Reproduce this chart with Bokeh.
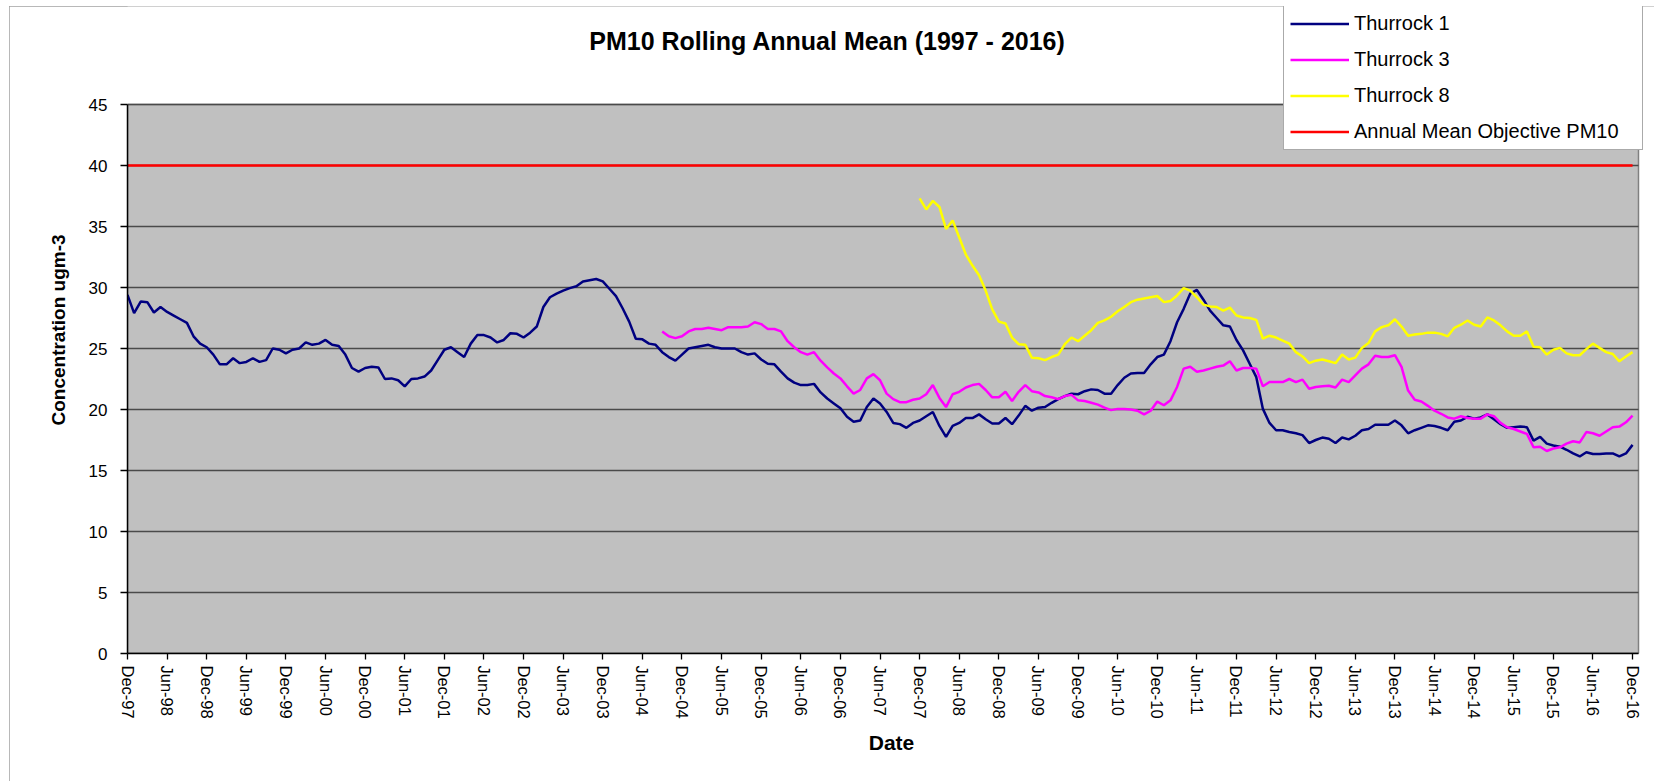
import numpy as np
import pandas as pd
from bokeh.plotting import figure
from bokeh.models import Range1d, FixedTicker, Legend, LegendItem, Label
from bokeh.embed import file_html
from bokeh.resources import INLINE

# ---------------- data ----------------
FIRST_MONTH = "1997-12"
LAST_MONTH = "2016-12"
T3_START = "2004-09"
T8_START = "2007-12"
OBJECTIVE = 40

TITLE = "PM10 Rolling Annual Mean (1997 - 2016)"
X_TITLE = "Date"
Y_TITLE = "Concentration ugm-3"
SERIES_NAMES = ["Thurrock 1", "Thurrock 3", "Thurrock 8", "Annual Mean Objective PM10"]

tick_labels = ["Dec-97", "Jun-98", "Dec-98", "Jun-99", "Dec-99", "Jun-00", "Dec-00",
               "Jun-01", "Dec-01", "Jun-02", "Dec-02", "Jun-03", "Dec-03", "Jun-04",
               "Dec-04", "Jun-05", "Dec-05", "Jun-06", "Dec-06", "Jun-07", "Dec-07",
               "Jun-08", "Dec-08", "Jun-09", "Dec-09", "Jun-10", "Dec-10", "Jun-11",
               "Dec-11", "Jun-12", "Dec-12", "Jun-13", "Dec-13", "Jun-14", "Dec-14",
               "Jun-15", "Dec-15", "Jun-16", "Dec-16"]
y_ticks = [0, 5, 10, 15, 20, 25, 30, 35, 40, 45]
Y_MAX = 45

thurrock1 = [
    29.4, 27.9, 28.85, 28.8, 27.95, 28.4, 28.0, 27.7, 27.4, 27.1, 26.0, 25.4,
    25.1, 24.5, 23.7, 23.7, 24.2, 23.8, 23.9, 24.2, 23.9, 24.05, 25.0, 24.9,
    24.6, 24.9, 25.0, 25.5, 25.3, 25.4, 25.7, 25.3, 25.2, 24.5, 23.4, 23.1,
    23.4, 23.5, 23.45, 22.5, 22.55, 22.4, 21.9, 22.5, 22.55, 22.7, 23.2, 24.05,
    24.9, 25.1, 24.7, 24.3, 25.4, 26.1, 26.1, 25.9, 25.5, 25.7, 26.25, 26.2,
    25.9, 26.3, 26.8, 28.4, 29.2, 29.5, 29.75, 29.95, 30.1, 30.5, 30.6, 30.7,
    30.5, 29.9, 29.3, 28.3, 27.2, 25.8, 25.75, 25.4, 25.3, 24.7, 24.3, 24.0,
    24.5, 25.0, 25.1, 25.2, 25.3, 25.1, 25.0, 25.0, 25.0, 24.7, 24.5, 24.6,
    24.1, 23.75, 23.7, 23.1, 22.55, 22.2, 22.0, 22.0, 22.1, 21.4, 20.9, 20.5,
    20.1, 19.4, 19.0, 19.1, 20.2, 20.9, 20.5, 19.8, 18.9, 18.8, 18.5, 18.9,
    19.1, 19.45, 19.8, 18.65, 17.75, 18.65, 18.9, 19.3, 19.3, 19.6, 19.2, 18.85,
    18.85, 19.3, 18.8, 19.5, 20.3, 19.9, 20.15, 20.2, 20.55, 20.85, 21.1, 21.3,
    21.25, 21.5, 21.65, 21.6, 21.3, 21.3, 22.0, 22.6, 22.95, 23.0, 23.0, 23.7,
    24.3, 24.5, 25.6, 27.15, 28.25, 29.5, 29.8, 29.0, 28.1, 27.5, 26.9, 26.8,
    25.7, 24.85, 23.75, 22.65, 20.05, 18.9, 18.3, 18.3, 18.15, 18.05, 17.9, 17.25,
    17.5, 17.7, 17.6, 17.25, 17.7, 17.55, 17.85, 18.3, 18.4, 18.75, 18.75, 18.75,
    19.1, 18.7, 18.05, 18.3, 18.5, 18.7, 18.65, 18.5, 18.3, 19.0, 19.1, 19.4,
    19.25, 19.35, 19.6, 19.2, 18.8, 18.5, 18.55, 18.6, 18.55, 17.45, 17.75, 17.2,
    17.05, 16.95, 16.7, 16.4, 16.15, 16.5, 16.35, 16.35, 16.4, 16.4, 16.15, 16.4,
    17.1]

thurrock3 = [
    26.4, 26.0, 25.85,
    26.0, 26.4, 26.6, 26.6, 26.7, 26.6, 26.5, 26.75, 26.75, 26.75, 26.8, 27.15,
    27.0, 26.6, 26.6, 26.4, 25.6, 25.1, 24.7, 24.5, 24.7, 24.0, 23.45, 22.95,
    22.55, 21.9, 21.3, 21.6, 22.55, 22.9, 22.4, 21.3, 20.85, 20.6, 20.6, 20.8,
    20.9, 21.25, 22.0, 20.95, 20.2, 21.25, 21.45, 21.8, 22.0, 22.1, 21.6, 21.0,
    21.0, 21.45, 20.7, 21.45, 22.0, 21.5, 21.4, 21.1, 21.0, 20.85, 21.1, 21.2,
    20.75, 20.7, 20.55, 20.4, 20.15, 19.95, 20.05, 20.05, 20.0, 19.9, 19.6, 19.9,
    20.65, 20.35, 20.75, 21.85, 23.35, 23.5, 23.1, 23.2, 23.35, 23.5, 23.6, 23.95,
    23.2, 23.4, 23.4, 23.35, 21.9, 22.25, 22.25, 22.25, 22.5, 22.25, 22.45, 21.7,
    21.85, 21.9, 21.95, 21.8, 22.45, 22.25, 22.8, 23.35, 23.7, 24.4, 24.3, 24.3,
    24.45, 23.5, 21.55, 20.8, 20.65, 20.3, 19.9, 19.65, 19.35, 19.25, 19.45, 19.3,
    19.25, 19.25, 19.6, 19.45, 18.9, 18.55, 18.4, 18.2, 18.0, 16.9, 16.95, 16.6,
    16.8, 16.9, 17.2, 17.4, 17.3, 18.15, 18.05, 17.85, 18.2, 18.55, 18.6, 18.95,
    19.5]

thurrock8 = [
    37.3, 36.4, 37.1, 36.6, 34.8, 35.5, 34.1, 32.7, 31.8, 31.0, 29.75, 28.2,
    27.2, 27.05, 25.9, 25.35, 25.3, 24.25, 24.2, 24.05, 24.3, 24.5, 25.35, 25.9,
    25.6, 26.05, 26.5, 27.1, 27.3, 27.6, 28.05, 28.4, 28.8, 29.0, 29.1, 29.2,
    29.3, 28.8, 28.9, 29.35, 29.95, 29.75, 29.2, 28.6, 28.45, 28.4, 28.1, 28.35,
    27.7, 27.55, 27.5, 27.35, 25.8, 26.05, 25.9, 25.65, 25.4, 24.7, 24.35, 23.8,
    24.0, 24.1, 23.95, 23.8, 24.5, 24.1, 24.25, 25.05, 25.45, 26.4, 26.75, 26.9,
    27.4, 26.8, 26.05, 26.15, 26.2, 26.3, 26.3, 26.2, 26.0, 26.7, 26.95, 27.3,
    26.95, 26.8, 27.55, 27.3, 26.9, 26.4, 26.05, 26.05, 26.4, 25.15, 25.1, 24.5,
    24.9, 25.05, 24.6, 24.45, 24.45, 24.95, 25.4, 25.05, 24.7, 24.55, 23.95, 24.35,
    24.7]

# ---------------- derived x positions (category index of each month) ----------------
months = pd.period_range(FIRST_MONTH, LAST_MONTH, freq="M")
x_all = np.arange(len(months))
i3 = months.get_loc(pd.Period(T3_START, "M"))
i8 = months.get_loc(pd.Period(T8_START, "M"))
x1 = x_all[:len(thurrock1)]
x3 = x_all[i3:i3 + len(thurrock3)]
x8 = x_all[i8:i8 + len(thurrock8)]
tick_idx = [int(i) for i, mth in zip(x_all, months) if mth.month in (6, 12)]
label_map = {t: lab for t, lab in zip(tick_idx, tick_labels)}

# ---------------- layout (page pixels) ----------------
OFF_X, OFF_Y = 9, 6                  # chart-area border position on the page
W, H = 1655 - OFF_X, 781 - OFF_Y
PA_LEFT, PA_RIGHT, PA_TOP, PA_BOTTOM = 127, 1638, 104, 653   # grey plot area on the page
X_PLOT_END = 228.9
FONT = "Liberation Sans"

px_per_x = (PA_RIGHT - PA_LEFT) / X_PLOT_END
px_per_y = (PA_BOTTOM - PA_TOP) / Y_MAX
BL = PA_LEFT - OFF_X
BB = (OFF_Y + H) - PA_BOTTOM
# the frame reaches the top and right edge of the canvas so that title and legend fit inside it
x_end = (OFF_X + W - PA_LEFT) / px_per_x
y_end = (PA_BOTTOM - OFF_Y) / px_per_y

p = figure(width=W, height=H, output_backend="svg", toolbar_location=None,
           x_range=Range1d(0, x_end), y_range=Range1d(0, y_end),
           min_border_left=BL, min_border_right=0, min_border_top=0, min_border_bottom=BB)
p.styles = {"margin-left": f"{OFF_X}px", "margin-top": f"{OFF_Y}px",
            "outline": "1px solid #a0a0a0", "outline-offset": "-1px",
            "clip-path": "inset(0px 1px 0px 0px)"}
p.background_fill_color = "white"
p.border_fill_color = "white"
p.outline_line_color = None
p.xgrid.visible = False
p.ygrid.visible = False

# grey plot area with its grey top/right border
p.quad(left=0, right=X_PLOT_END, bottom=0, top=Y_MAX, fill_color="#C0C0C0",
       line_color="#808080", line_width=1.5)
# horizontal gridlines at the y ticks
p.segment(x0=[0] * len(y_ticks), x1=[X_PLOT_END] * len(y_ticks), y0=y_ticks, y1=y_ticks,
          line_color="#4a4a4a", line_width=1.4)

p.yaxis.ticker = FixedTicker(ticks=y_ticks)
p.yaxis.bounds = (0, Y_MAX)
p.xaxis.ticker = FixedTicker(ticks=tick_idx)
p.xaxis.bounds = (0, X_PLOT_END)
p.xaxis.major_label_overrides = label_map
p.xaxis.major_label_orientation = "vertical"

for ax in (p.xaxis, p.yaxis):
    ax.axis_line_color = "black"
    ax.axis_line_width = 1.5
    ax.major_tick_line_color = "black"
    ax.major_tick_line_width = 1.3
    ax.major_tick_in = 0
    ax.minor_tick_out = 0
    ax.minor_tick_in = 0
    ax.major_label_text_font = FONT
    ax.major_label_text_color = "black"
    ax.axis_label_text_font = FONT
    ax.axis_label_text_font_style = "bold"
    ax.axis_label_text_color = "black"

p.xaxis.major_tick_out = 6
p.xaxis.major_label_standoff = 6
p.xaxis.major_label_text_font_size = "16.5px"
p.xaxis.axis_label = X_TITLE
p.xaxis.axis_label_text_font_size = "21px"
p.xaxis.axis_label_standoff = 9

p.yaxis.major_tick_out = 7
p.yaxis.major_label_standoff = 13
p.yaxis.major_label_text_font_size = "17px"
p.yaxis.axis_label = Y_TITLE
p.yaxis.axis_label_text_font_size = "19px"
p.yaxis.axis_label_standoff = 17

r1 = p.line(x1, thurrock1, line_color="#000080", line_width=2.5)
r3 = p.line(x3, thurrock3, line_color="#FF00FF", line_width=2.5)
r8 = p.line(x8, thurrock8, line_color="#FFFF00", line_width=2.5)
r_obj = p.line(x_all, [OBJECTIVE] * len(x_all), line_color="#FF0000", line_width=2.5)

# legend box: left edge at page x 1283, bottom at page y 150
legend = Legend(items=[LegendItem(label=n, renderers=[r]) for n, r in
                       zip(SERIES_NAMES, [r1, r3, r8, r_obj])],
                location=(1283 - PA_LEFT, PA_BOTTOM - 150))
legend.label_text_font = FONT
legend.label_text_font_size = "20px"
legend.label_text_color = "black"
legend.glyph_width = 59
legend.glyph_height = 23
legend.label_height = 23
legend.label_width = 282
legend.spacing = 13
legend.padding = 6
legend.margin = 0
legend.label_standoff = 5
legend.border_line_color = "#555555"
legend.border_line_width = 1
legend.background_fill_color = "white"
legend.background_fill_alpha = 1.0
p.add_layout(legend)

# title centred on the chart area (page x 827, y 40), converted to data units
title_x = (827 - PA_LEFT) / px_per_x
title_y = (PA_BOTTOM - 40) / px_per_y
p.add_layout(Label(x=title_x, y=title_y, text=TITLE, text_align="center", text_baseline="middle",
                   text_font=FONT, text_font_size="25px", text_font_style="bold",
                   text_color="black"))

open("out.html", "w").write(file_html(p, INLINE))
